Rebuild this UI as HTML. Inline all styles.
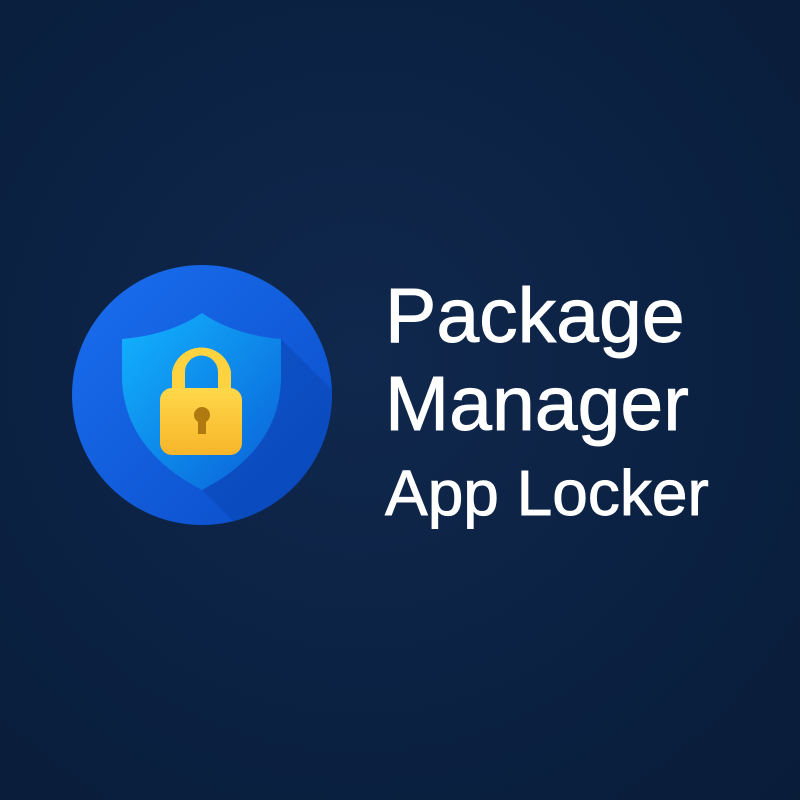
<!DOCTYPE html>
<html><head><style>
html,body{margin:0;padding:0}
body{width:800px;height:800px;overflow:hidden;background:radial-gradient(circle at 45% 45%,#10284d 0%,#0b2142 60%,#091c38 100%);position:relative;font-family:"Liberation Sans",sans-serif;}
.t{position:absolute;left:385px;color:#fff;white-space:nowrap;-webkit-text-stroke:0.9px #fff;line-height:1}
</style></head><body>
<svg width="800" height="800" style="position:absolute;left:0;top:0">
<defs>
<linearGradient id="c" x1="0" y1="0" x2="1" y2="1"><stop offset="0" stop-color="#1a6ff0"/><stop offset="1" stop-color="#0a4cc8"/></linearGradient>
<linearGradient id="s" x1="0" y1="0" x2="1" y2="1"><stop offset="0" stop-color="#12b4ff"/><stop offset="1" stop-color="#0a5fd6"/></linearGradient>
<linearGradient id="l" x1="0" y1="0" x2="0" y2="1"><stop offset="0" stop-color="#ffd84a"/><stop offset="1" stop-color="#f7b52a"/></linearGradient>
<clipPath id="cc"><circle cx="202" cy="395" r="130"/></clipPath>
</defs>
<circle cx="202" cy="395" r="130" fill="url(#c)"/>
<path d="M281 339 L440 498 L361 649 L202 490 Q279 450 281 380 Z" fill="#0840a8" opacity="0.4" clip-path="url(#cc)"/>
<path d="M202 313 Q170 335 122 339 L122 380 Q125 450 202 490 Q279 450 281 380 L281 339 Q234 335 202 313 Z" fill="url(#s)"/>
<path d="M172 388 L172 372 A30 30 0 0 1 231 372 L231 388 L218 388 L218 372 A16.5 16.5 0 0 0 185 372 L185 388 Z" fill="#ffd340"/>
<rect x="160" y="388" width="82" height="67" rx="12" fill="url(#l)"/>
<circle cx="202" cy="415" r="8" fill="#b07a10"/>
<rect x="198" y="415" width="8" height="19" fill="#b07a10"/>
</svg>
<div class="t" style="top:278px;font-size:77px">Package</div>
<div class="t" style="top:366px;font-size:77px">Manager</div>
<div class="t" style="top:461px;font-size:64px">App Locker</div>
</body></html>
